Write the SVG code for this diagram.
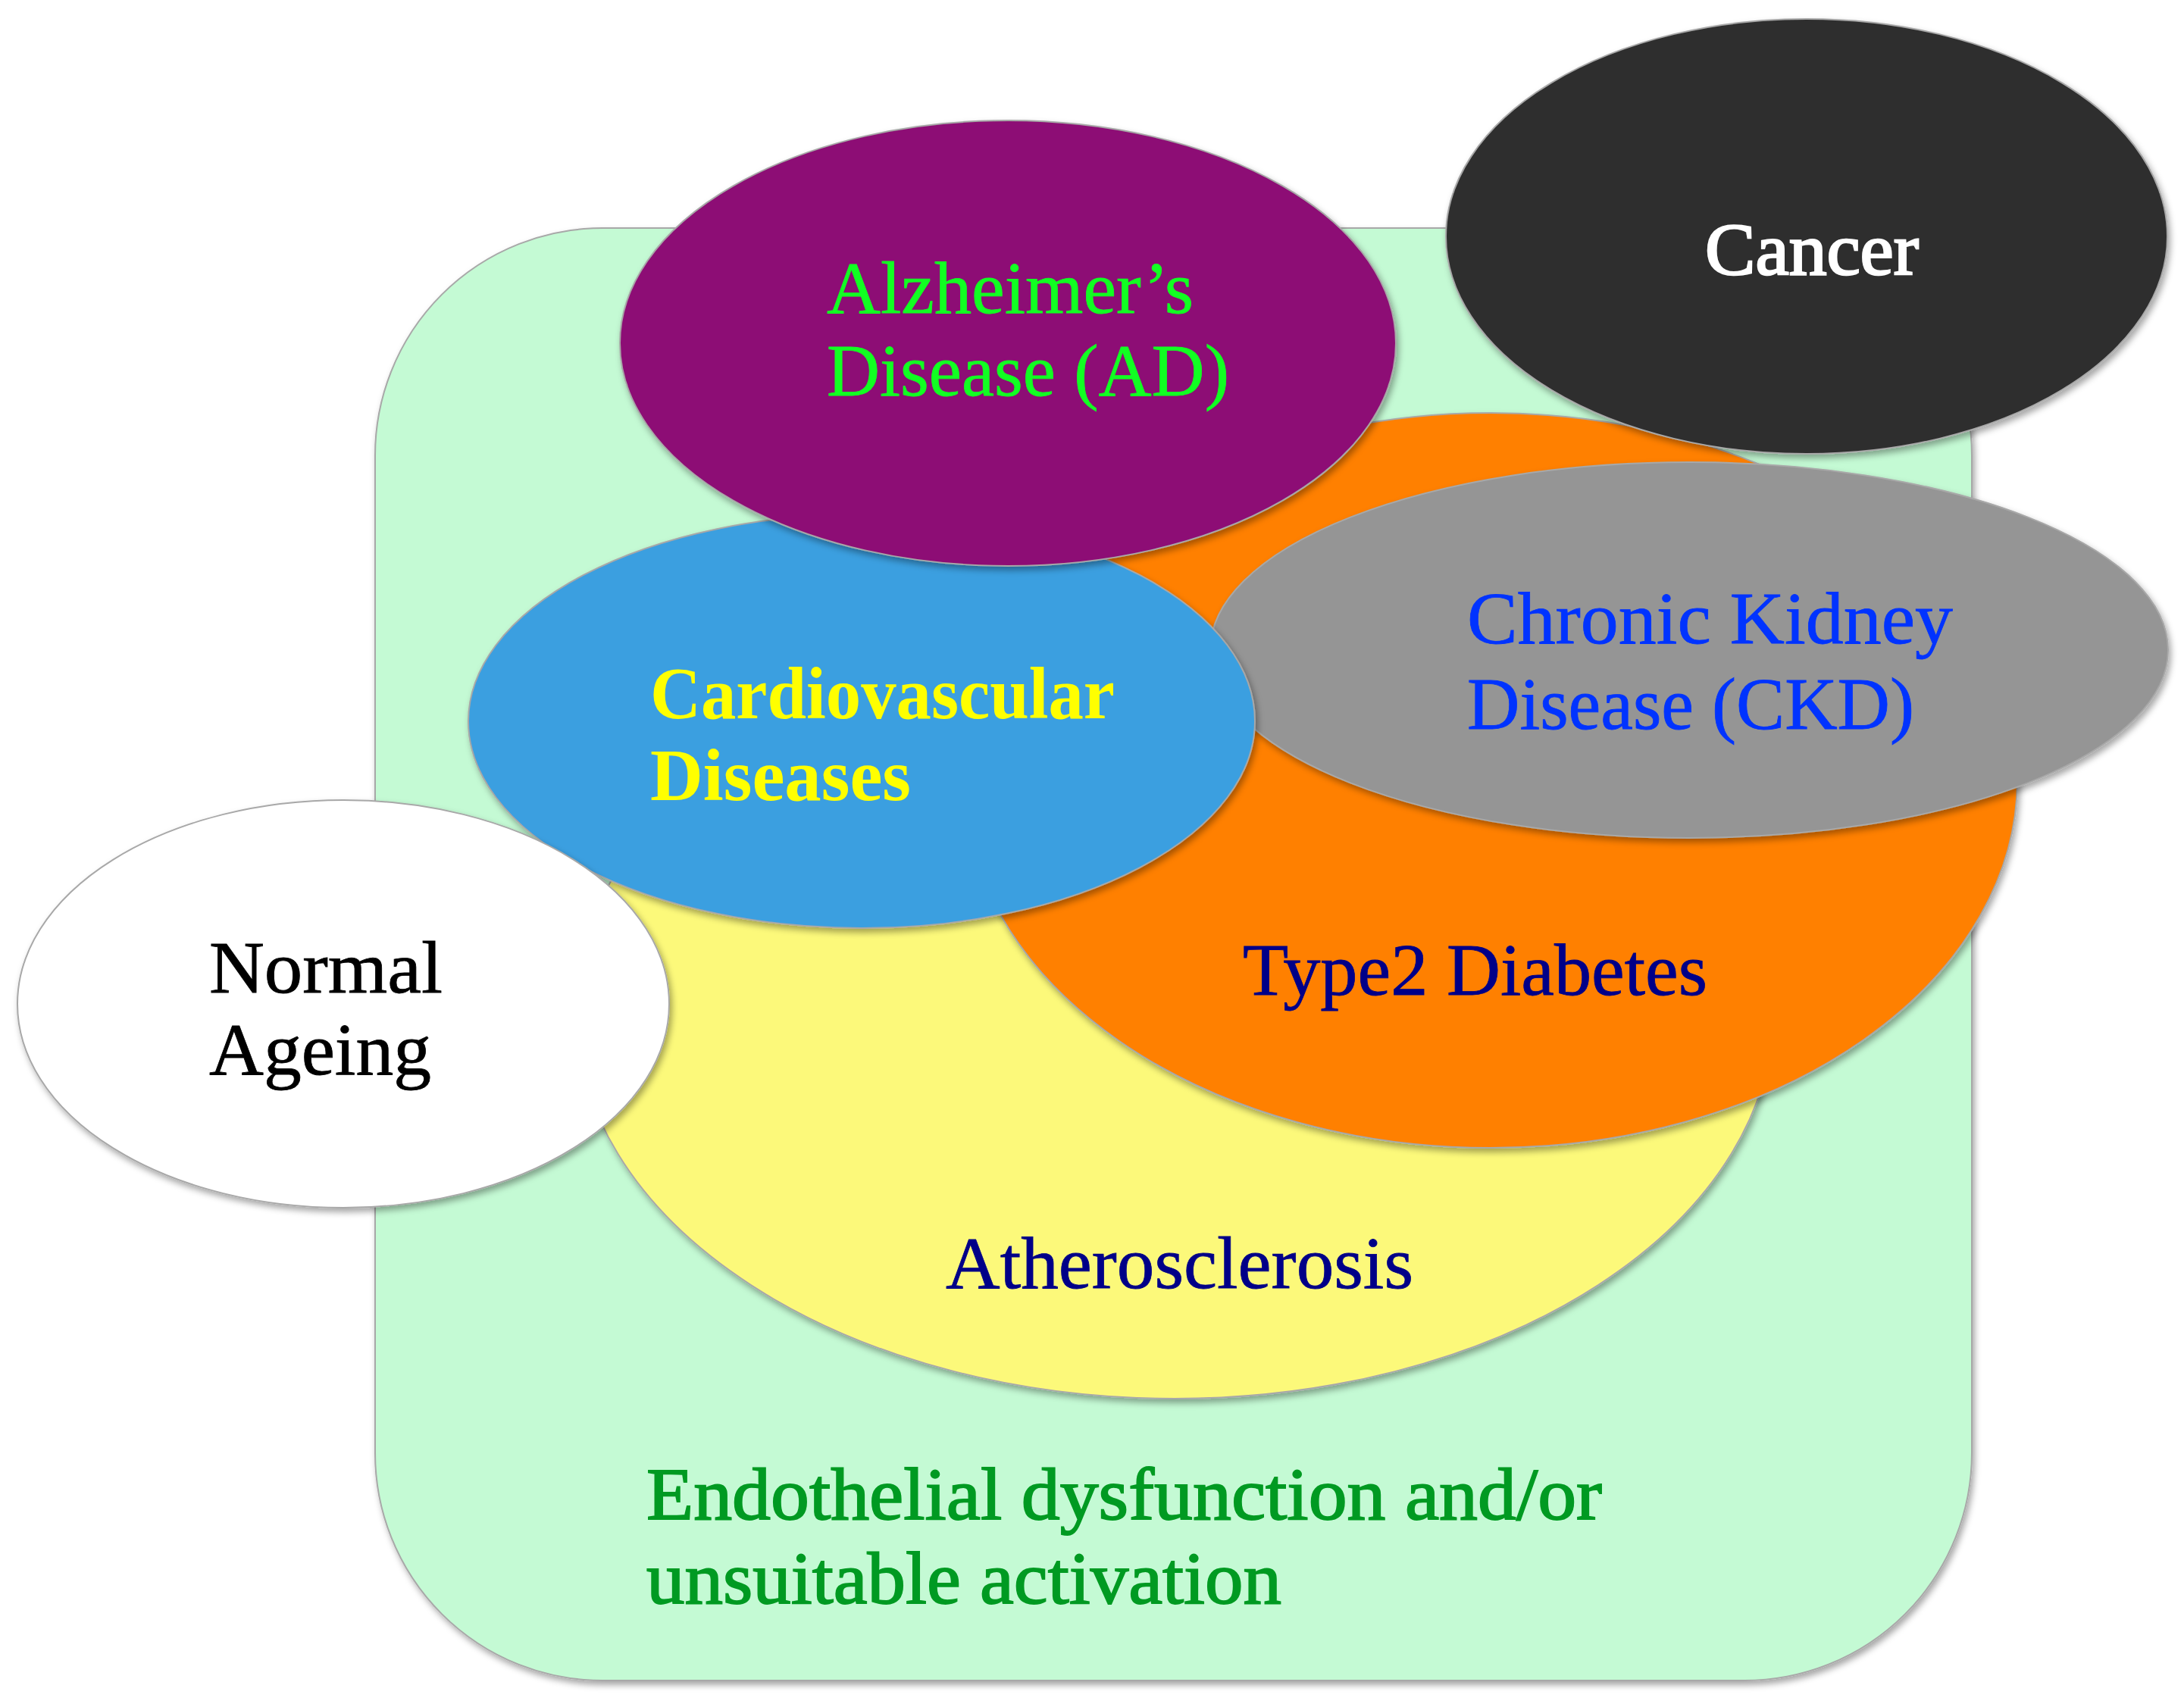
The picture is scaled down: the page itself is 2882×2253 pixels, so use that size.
<svg xmlns="http://www.w3.org/2000/svg" width="2882" height="2253" viewBox="0 0 2882 2253">
<defs>
<filter id="sh" x="-10%" y="-10%" width="125%" height="125%">
<feDropShadow dx="3" dy="5" stdDeviation="4" flood-color="#000" flood-opacity="0.35"/>
</filter>
</defs>
<style>
.shape{stroke:#a8a8a8;stroke-width:2;filter:url(#sh)}
text{font-family:"Liberation Serif","DejaVu Serif",serif;font-size:98px;stroke-width:0.8px}
.semi{stroke-width:1.8px}
.bold{stroke-width:2.6px}
</style>
<rect width="2882" height="2253" fill="#ffffff"/>
<g id="endothelial">
<rect class="shape" x="495" y="301" width="2107" height="1917" rx="300" ry="300" fill="#c4fad4"/>
<text x="853" y="2005" fill="#009a22" stroke="#009a22" class="semi" textLength="1261" lengthAdjust="spacingAndGlyphs">Endothelial dysfunction and/or</text>
<text x="853" y="2116" fill="#009a22" stroke="#009a22" class="semi" textLength="838" lengthAdjust="spacingAndGlyphs">unsuitable activation</text>
</g>
<g id="atherosclerosis">
<ellipse class="shape" cx="1550" cy="1335" rx="790" ry="511" fill="#fcf97a"/>
<text x="1248" y="1700" fill="#000088" stroke="#000088" textLength="617" lengthAdjust="spacingAndGlyphs">Atherosclerosis</text>
</g>
<g id="type2-diabetes">
<ellipse class="shape" cx="1967" cy="1030" rx="695" ry="485" fill="#ff8000"/>
<text x="1640" y="1313" fill="#000088" stroke="#000088" textLength="613" lengthAdjust="spacingAndGlyphs">Type2 Diabetes</text>
</g>
<g id="ckd">
<ellipse class="shape" cx="2229" cy="858" rx="632" ry="248" fill="#959595"/>
<text x="1936" y="849" fill="#0033ff" stroke="#0033ff" textLength="641" lengthAdjust="spacingAndGlyphs">Chronic Kidney</text>
<text x="1936" y="962" fill="#0033ff" stroke="#0033ff" textLength="590" lengthAdjust="spacingAndGlyphs">Disease (CKD)</text>
</g>
<g id="cancer">
<ellipse class="shape" cx="2384" cy="312" rx="476" ry="287" fill="#2e2e2e"/>
<text x="2250" y="362" fill="#ffffff" stroke="#ffffff" class="bold" textLength="282" lengthAdjust="spacingAndGlyphs">Cancer</text>
</g>
<g id="cardiovascular">
<ellipse class="shape" cx="1137" cy="952" rx="519" ry="273" fill="#3a9fe0"/>
<text x="858" y="948" fill="#ffff00" font-weight="bold" textLength="613" lengthAdjust="spacingAndGlyphs">Cardiovascular</text>
<text x="858" y="1056" fill="#ffff00" font-weight="bold" textLength="344" lengthAdjust="spacingAndGlyphs">Diseases</text>
</g>
<g id="alzheimers">
<ellipse class="shape" cx="1330" cy="453" rx="512" ry="294" fill="#8d1174"/>
<text x="1091" y="413" fill="#11ff22" stroke="#11ff22" textLength="484" lengthAdjust="spacingAndGlyphs">Alzheimer’s</text>
<text x="1091" y="522" fill="#11ff22" stroke="#11ff22" textLength="531" lengthAdjust="spacingAndGlyphs">Disease (AD)</text>
</g>
<g id="normal-ageing">
<ellipse class="shape" cx="453" cy="1325" rx="430" ry="269" fill="#ffffff"/>
<text x="276" y="1310" fill="#000000" stroke="#000000" textLength="308" lengthAdjust="spacingAndGlyphs">Normal</text>
<text x="276" y="1418" fill="#000000" stroke="#000000" textLength="293" lengthAdjust="spacingAndGlyphs">Ageing</text>
</g>
<g id="connectors"></g>
</svg>
